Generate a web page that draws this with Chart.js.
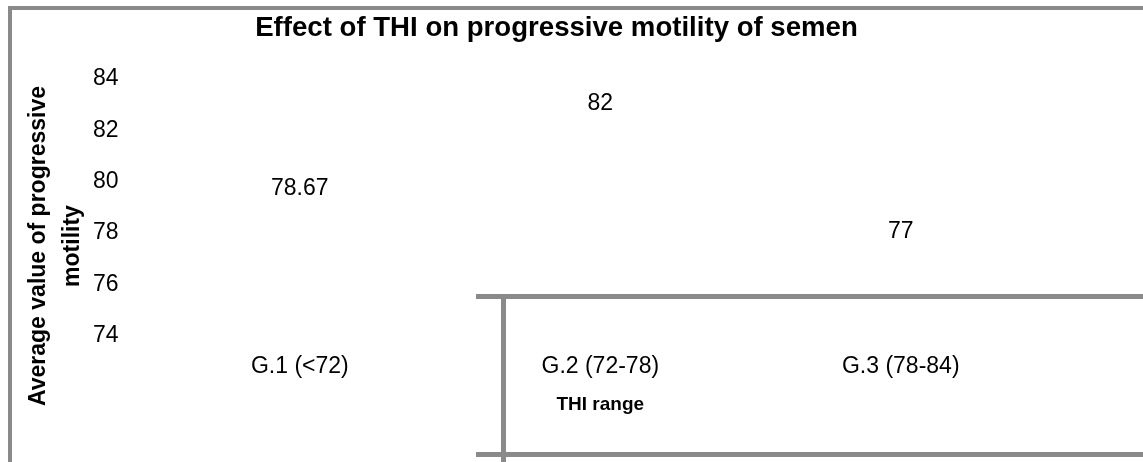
<!DOCTYPE html>
<html>
<head>
<meta charset="utf-8">
<title>Effect of THI on progressive motility of semen</title>
<script src="https://cdn.jsdelivr.net/npm/chart.js@4.4.1/dist/chart.umd.min.js"></script>
<style>
  html, body { margin: 0; padding: 0; background: #fff; }
  #wrap { position: relative; width: 1143px; height: 462px; overflow: hidden; }
  .rule { position: absolute; background: #8a8a8a; }
</style>
</head>
<body>
<div id="wrap">
  <canvas id="thiChart" width="1143" height="462"></canvas>
  <!-- grey frame pieces seen in the original picture -->
  <div class="rule" style="left:8px;top:6px;width:1135px;height:4px"></div>
  <div class="rule" style="left:8px;top:6px;width:4px;height:456px"></div>
  <div class="rule" style="left:476px;top:294px;width:667px;height:5px"></div>
  <div class="rule" style="left:501px;top:294px;width:5px;height:168px"></div>
  <div class="rule" style="left:476px;top:452px;width:667px;height:5px"></div>
</div>
<script>
// data
var categories = ['G.1 (<72)', 'G.2 (72-78)', 'G.3 (78-84)'];
var motility = [78.67, 82, 77];
var yTicks = [74, 76, 78, 80, 82, 84];

var fontFamily = '"Liberation Sans", Arial, sans-serif';
Chart.defaults.color = '#000';
Chart.defaults.font.family = fontFamily;

// value written above each (white) bar
var valueLabels = {
  id: 'valueLabels',
  afterDatasetsDraw: function (chart) {
    var ctx = chart.ctx;
    var meta = chart.getDatasetMeta(0);
    ctx.save();
    ctx.font = '23px ' + fontFamily;
    ctx.fillStyle = '#000';
    ctx.textAlign = 'center';
    ctx.textBaseline = 'middle';
    meta.data.forEach(function (bar, i) {
      ctx.fillText(String(motility[i]), bar.x, bar.y - 27);
    });
    ctx.restore();
  }
};

// two-line vertical axis title
var yTitle = {
  id: 'yTitle',
  afterDraw: function (chart) {
    var ctx = chart.ctx;
    ctx.save();
    ctx.translate(45, 246);
    ctx.rotate(-Math.PI / 2);
    ctx.font = 'bold 23px ' + fontFamily;
    ctx.fillStyle = '#000';
    ctx.textAlign = 'center';
    ctx.textBaseline = 'alphabetic';
    ctx.fillText('Average value of progressive', 0, 0);
    ctx.fillText('motility', 0, 34);
    ctx.restore();
  }
};

var ctx = document.getElementById('thiChart').getContext('2d');
var thiChart = new Chart(ctx, {
  type: 'bar',
  data: {
    labels: categories,
    datasets: [{
      data: motility,
      backgroundColor: '#ffffff',
      borderWidth: 0
    }]
  },
  options: {
    responsive: false,
    animation: false,
    layout: { padding: { left: 62, right: 92, top: 0, bottom: 0 } },
    plugins: {
      legend: { display: false },
      tooltip: { enabled: false },
      title: {
        display: true,
        text: 'Effect of THI on progressive motility of semen',
        color: '#000',
        font: { size: 27.6, weight: 'bold' },
        padding: { top: 12, bottom: 34 }
      }
    },
    scales: {
      x: {
        grid: { display: false, drawTicks: false },
        border: { display: false },
        ticks: { font: { size: 23 }, padding: 0, maxRotation: 0 },
        title: {
          display: true,
          text: 'THI range',
          font: { size: 19, weight: 'bold' },
          padding: { top: 13, bottom: 46 }
        }
      },
      y: {
        min: 73.33,
        max: 84,
        grid: { display: false, drawTicks: false },
        border: { display: false },
        ticks: { font: { size: 23 }, padding: 31, includeBounds: false },
        afterBuildTicks: function (scale) {
          scale.ticks = yTicks.map(function (v) { return { value: v }; });
        }
      }
    }
  },
  plugins: [valueLabels, yTitle]
});
</script>
</body>
</html>
